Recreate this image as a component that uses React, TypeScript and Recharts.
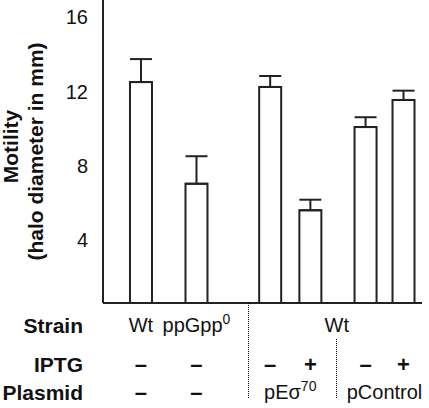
import { Bar, BarChart, ErrorBar, XAxis, YAxis } from "recharts"

// bar centres on a 0..10 x scale (mm)
const barPos = [1.19, 2.93, 5.24, 6.5, 8.23, 9.42]
const motility = [12.5, 7.03, 12.24, 5.6, 10.08, 11.54]
const motilityErr = [1.24, 1.48, 0.59, 0.57, 0.53, 0.5]
const iptgRow = ["–", "–", "–", "+", "–", "+"]
const strainGroups = [
  { label: "Wt", sup: "", bars: [0] },
  { label: "ppGpp", sup: "0", bars: [1] },
  { label: "Wt", sup: "", bars: [2, 3, 4, 5] },
]
const plasmidGroups = [
  { label: "–", sup: "", bars: [0] },
  { label: "–", sup: "", bars: [1] },
  { label: "pEσ", sup: "70", bars: [2, 3] },
  { label: "pControl", sup: "", bars: [4, 5] },
]
const separators = [
  { at: 4.55, full: true },
  { at: 7.3, full: false },
]
const rowLabels = ["Strain", "IPTG", "Plasmid"]
const yTicks = [4, 8, 12, 16]

const data = barPos.map((pos, i) => ({
  pos,
  motility: motility[i],
  err: [0, motilityErr[i]],
}))

const FONT = '"Liberation Sans", Arial, Helvetica, sans-serif'
const INK = "#111"
const ROW_Y = [22, 61, 89]

type Spec = {
  value: number
  strain?: { label: string; sup: string }
  iptg?: string
  plasmid?: { label: string; sup: string }
  sep?: boolean
  sepFull?: boolean
}

const centre = (bars: number[]) => (barPos[bars[0]] + barPos[bars[bars.length - 1]]) / 2

const specMap = new Map<string, Spec>()
const spec = (v: number) => {
  const k = v.toFixed(4)
  if (!specMap.has(k)) specMap.set(k, { value: v })
  return specMap.get(k)!
}
barPos.forEach((p, i) => (spec(p).iptg = iptgRow[i]))
strainGroups.forEach((g) => (spec(centre(g.bars)).strain = g))
plasmidGroups.forEach((g) => (spec(centre(g.bars)).plasmid = g))
separators.forEach((s) => {
  const t = spec(s.at)
  t.sep = true
  t.sepFull = s.full
})
const tickSpecs = [...specMap.values()].sort((a, b) => a.value - b.value)

function Label2({ x, y, label, sup }: { x: number; y: number; label: string; sup: string }) {
  return (
    <text x={x} y={y} textAnchor="middle" dominantBaseline="central" fontSize={20} fill={INK} fontFamily={FONT}>
      {label}
      {sup && (
        <tspan dy={-6} fontSize={14}>
          {sup}
        </tspan>
      )}
    </text>
  )
}

function Sign({ x, y, s }: { x: number; y: number; s: string }) {
  return (
    <text x={x} y={y} textAnchor="middle" dominantBaseline="central" fontSize={22} fontWeight="bold" fill={INK} fontFamily={FONT}>
      {s}
    </text>
  )
}

function TableTick(props: any) {
  const { x, y, payload } = props
  const s = tickSpecs.find((t) => Math.abs(t.value - payload.value) < 1e-6)
  if (!s) return null
  const lx = Math.round(x) + 0.5
  return (
    <g>
      {s.sep && (
        <line
          x1={lx}
          x2={lx}
          y1={s.sepFull ? y : y + 36}
          y2={y + 96}
          stroke="#000"
          strokeWidth={1}
          strokeDasharray="1 1"
        />
      )}
      {s.strain && <Label2 x={x} y={y + ROW_Y[0]} label={s.strain.label} sup={s.strain.sup} />}
      {s.iptg && <Sign x={x} y={y + ROW_Y[1]} s={s.iptg} />}
      {s.plasmid &&
        (s.plasmid.label === "–" ? (
          <Sign x={x} y={y + ROW_Y[2]} s="–" />
        ) : (
          <Label2 x={x} y={y + ROW_Y[2]} label={s.plasmid.label} sup={s.plasmid.sup} />
        ))}
    </g>
  )
}

function YTitle(props: any) {
  const vb = props.viewBox || { x: 0, y: 0, width: 103, height: 303 }
  const right = vb.x + vb.width
  const bottom = vb.y + vb.height
  const cy = vb.y + vb.height / 2
  return (
    <g fontFamily={FONT} fontWeight="bold" fill={INK} fontSize={21}>
      <text x={10} y={cy - 5} transform={`rotate(-90 10 ${cy - 5})`} textAnchor="middle" dominantBaseline="central">
        Motility
      </text>
      <text x={35} y={cy} transform={`rotate(-90 35 ${cy})`} textAnchor="middle" dominantBaseline="central">
        (halo diameter in mm)
      </text>
      {rowLabels.map((r, i) => (
        <text key={r} x={right - 20} y={bottom + ROW_Y[i]} textAnchor="end" dominantBaseline="central">
          {r}
        </text>
      ))}
    </g>
  )
}

export default function App() {
  return (
    <div style={{ position: "absolute", left: 0, top: 0 }}>
      <BarChart width={429} height={408} data={data} margin={{ top: 0, right: 7, bottom: 0, left: 0 }}>
        <XAxis
          dataKey="pos"
          type="number"
          domain={[0, 10]}
          ticks={tickSpecs.map((t) => t.value)}
          interval={0}
          tick={<TableTick />}
          tickLine={false}
          tickSize={0}
          tickMargin={0}
          height={105}
          axisLine={{ stroke: "#222", strokeWidth: 2 }}
        />
        <YAxis
          domain={[0.61, 16.92]}
          ticks={yTicks}
          allowDataOverflow
          width={103}
          tickLine={false}
          tickSize={0}
          tickMargin={15}
          axisLine={{ stroke: "#222", strokeWidth: 2 }}
          tick={{ fontSize: 20, fill: INK, fontFamily: FONT }}
          label={<YTitle />}
        />
        <Bar dataKey="motility" barSize={22} fill="#fff" stroke="#222" strokeWidth={2} isAnimationActive={false}>
          <ErrorBar dataKey="err" direction="y" width={11} stroke="#222" strokeWidth={2} isAnimationActive={false} />
        </Bar>
      </BarChart>
    </div>
  )
}
